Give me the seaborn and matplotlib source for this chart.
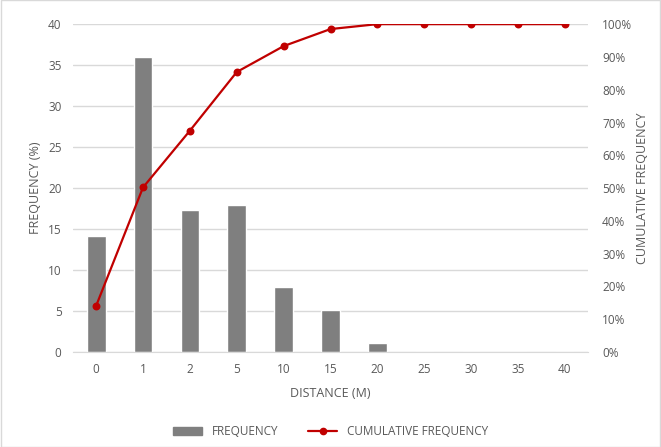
import numpy as np
import pandas as pd
import matplotlib
matplotlib.use("Agg")
import matplotlib.pyplot as plt
import seaborn as sns
from matplotlib.ticker import PercentFormatter
from matplotlib.lines import Line2D
from matplotlib.patches import Patch

# Data
distances = ["0", "1", "2", "5", "10", "15", "20", "25", "30", "35", "40"]
frequency = [14.1, 36.0, 17.3, 17.9, 7.9, 5.1, 1.1, 0.0, 0.0, 0.0, 0.0]
cumulative = [14.1, 50.2, 67.5, 85.4, 93.3, 98.5, 100, 100, 100, 100, 100]

TEXT = "#595959"
GRID = "#d9d9d9"
BAR = "#7f7f7f"
LINE = "#c00000"

sns.set_style("white")
plt.rcParams["font.family"] = ["Open Sans", "DejaVu Sans"]
plt.rcParams["font.size"] = 8.5

df = pd.DataFrame({"distance": distances, "freq": frequency, "cum": cumulative})

fig = plt.figure(figsize=(6.61, 4.47), dpi=100)
ax = fig.add_axes([0.110, 0.2125, 0.780, 0.7335])

sns.barplot(data=df, x="distance", y="freq", color=BAR, width=0.4,
            saturation=1, ax=ax, zorder=2)
ax.set_ylim(0, 40)
ax.set_yticks(np.arange(0, 41, 5))
ax.yaxis.grid(True, color=GRID, linewidth=1)
ax.set_axisbelow(True)
for s in ["top", "left", "right"]:
    ax.spines[s].set_visible(False)
ax.spines["bottom"].set_color(GRID)
ax.tick_params(length=0, colors=TEXT, labelsize=8.5, pad=8)
ax.set_xlabel("DISTANCE (M)", color=TEXT, fontsize=9, labelpad=8)
ax.set_ylabel("FREQUENCY (%)", color=TEXT, fontsize=9, labelpad=4)

ax2 = ax.twinx()
sns.pointplot(data=df, x="distance", y="cum", color=LINE, markers="o",
              markersize=4.5, linewidth=1.6, ax=ax2)
ax2.set_ylim(0, 100)
ax2.set_yticks(np.arange(0, 101, 10))
ax2.yaxis.set_major_formatter(PercentFormatter(decimals=0))
for s in ax2.spines.values():
    s.set_visible(False)
ax2.tick_params(length=0, colors=TEXT, labelsize=8.5, pad=10)
ax2.set_ylabel("CUMULATIVE FREQUENCY", color=TEXT, fontsize=9, labelpad=3)
ax2.set_xlabel("")
ax.set_xlim(-0.5, len(distances) - 0.5)

handles = [Patch(color=BAR, label="FREQUENCY"),
           Line2D([0], [0], color=LINE, marker="o", markersize=4.5,
                  linewidth=1.6, label="CUMULATIVE FREQUENCY")]
leg = fig.legend(handles=handles, loc="center", bbox_to_anchor=(0.5, 0.034),
                 ncol=2, frameon=False, fontsize=8.5, handlelength=2.5,
                 columnspacing=2.5, handleheight=0.6)
for t in leg.get_texts():
    t.set_color(TEXT)

fig.patches.append(plt.Rectangle((0.001, 0.001), 0.998, 0.998, transform=fig.transFigure,
                                 fill=False, edgecolor=GRID, linewidth=1))

fig.savefig("out.png", dpi=100)
